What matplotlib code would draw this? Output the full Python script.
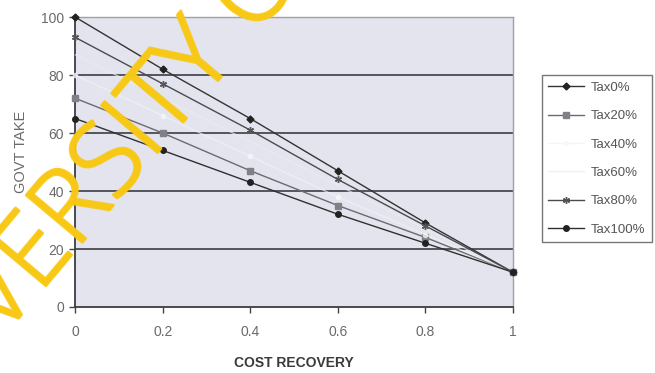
import numpy as np
import matplotlib.pyplot as plt
import matplotlib.patheffects as pe

# cost recovery share vs. government take, one series per tax rate
cost_recovery = [0, 0.2, 0.4, 0.6, 0.8, 1]
tax0 = [100, 82, 65, 47, 29, 12]
tax20 = [72, 60, 47, 35, 24, 12]
tax40 = [80, 66, 52, 38, 25, 12]
tax60 = [87, 72, 57, 42, 27, 12]
tax80 = [93, 77, 61, 44, 28, 12]
tax100 = [65, 54, 43, 32, 22, 12]
series_names = ['Tax0%', 'Tax20%', 'Tax40%', 'Tax60%', 'Tax80%', 'Tax100%']
y_ticks = [0, 20, 40, 60, 80, 100]
x_ticks = [0, 0.2, 0.4, 0.6, 0.8, 1]
x_ticklabels = ['0', '0.2', '0.4', '0.6', '0.8', '1']

plt.rcParams['font.family'] = ['Liberation Sans', 'DejaVu Sans']

fig = plt.figure(figsize=(6.55, 3.73), dpi=100)
ax = fig.add_axes([0.115, 0.177, 0.668, 0.777])
ax.set_facecolor('#e3e4ed')

for y in y_ticks[1:]:
    ax.axhline(y, color='#4a4a52', lw=1.3, zorder=1)

styles = [
    dict(color='#333333', marker='D', ms=3.5, mfc='#222222', mec='#222222'),
    dict(color='#6a6a70', marker='s', ms=4.5, mfc='#808086', mec='#808086'),
    dict(color='#f2f2f6', marker='o', ms=3, mfc='#f8f8fb', mec='#f8f8fb', alpha=0.7),
    dict(color='#ececf2', marker='o', ms=0, mfc='white', mec='white', alpha=0.7),
    dict(color='#4a4a50', marker=(6, 2, 0), ms=5, mfc='#555555', mec='#555555'),
    dict(color='#303030', marker='o', ms=4, mfc='#222222', mec='#222222'),
]
all_series = [tax0, tax20, tax40, tax60, tax80, tax100]
for vals, name, st in zip(all_series, series_names, styles):
    ax.plot(cost_recovery, vals, lw=1.0, label=name, zorder=3, clip_on=False, **st)

ax.set_xlim(0, 1)
ax.set_ylim(0, 100)
ax.set_xticks(x_ticks)
ax.set_xticklabels(x_ticklabels)
ax.set_yticks(y_ticks)
ax.tick_params(axis='both', colors='#444444', labelcolor='#6a6a6a', labelsize=10,
               direction='out', length=4, width=1)
ax.tick_params(axis='x', pad=9)
ax.tick_params(axis='y', pad=4)
for side in ['left', 'bottom']:
    ax.spines[side].set_color('#3c3c44')
    ax.spines[side].set_linewidth(1.3)
for side in ['top', 'right']:
    ax.spines[side].set_color('#a0a0a8')
    ax.spines[side].set_linewidth(1.0)

ax.set_xlabel('COST RECOVERY', fontsize=10, color='#3a3a3a', labelpad=12,
              fontweight='bold')
ax.set_ylabel('GOVT TAKE', fontsize=10.5, color='#6a6a6a')
ax.yaxis.set_label_coords(-0.108, 0.535)

leg = ax.legend(loc='upper left', bbox_to_anchor=(1.066, 0.80), frameon=True,
                fontsize=9.5, handlelength=2.7, labelspacing=1.22, borderpad=0.5,
                handletextpad=0.5, fancybox=False, borderaxespad=0)
leg.get_frame().set_edgecolor('#555555')
leg.get_frame().set_linewidth(1.0)
for t in leg.get_texts():
    t.set_color('#555555')

# repository watermark across the lower-left
fig.text(0.142, 0.496, 'UNIVERSITY OF', fontsize=74, color='#f8c814', alpha=0.9,
         rotation=50, ha='center', va='center', zorder=10, family='Open Sans',
         fontweight='light', rotation_mode='anchor',
         path_effects=[pe.withStroke(linewidth=2, foreground='#f8c814')])

fig.savefig('out.png', dpi=100, facecolor='white')
